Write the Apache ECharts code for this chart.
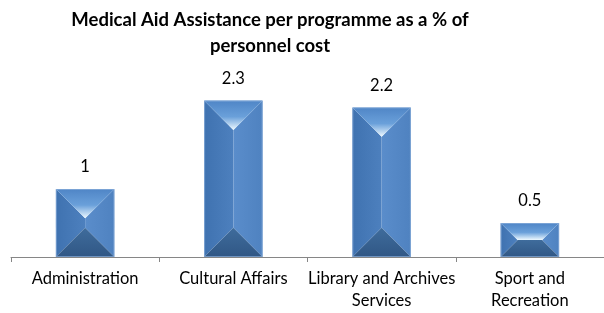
<!DOCTYPE html>
<html><head><meta charset="utf-8">
<script src="https://cdn.jsdelivr.net/npm/echarts@6/dist/echarts.min.js"></script>
<style>html,body{margin:0;padding:0;background:#fff}#c{width:604px;height:313px}</style>
</head><body><div id="c"></div>
<script>
const titleLines = ['Medical Aid Assistance per programme as a % of', 'personnel cost'];
const categories = ['Administration', 'Cultural Affairs', 'Library and Archives\nServices', 'Sport and\nRecreation'];
const values = [1, 2.3, 2.2, 0.5];
const valueLabels = ['1', '2.3', '2.2', '0.5'];

const chart = echarts.init(document.getElementById('c'));
const FONT = 'Lato, "Liberation Sans", sans-serif';

function renderItem(params, api) {
  const cat = api.value(0), v = api.value(1);
  const top = api.coord([cat, v]);
  const base = api.coord([cat, 0]);
  const w = api.size([1, 0])[0] * 0.395;
  const x0 = top[0] - w / 2, x1 = top[0] + w / 2, y0 = top[1], y1 = base[1];
  const h = y1 - y0;
  const d = Math.min(w / 2, h / 2);
  const poly = (pts, fill) => ({ type: 'polygon', shape: { points: pts }, style: { fill: fill, stroke: null } });
  const grad = (stops, x2, y2) => ({ type: 'linear', x: 0, y: 0, x2: x2, y2: y2, colorStops: stops });
  const children = [
    poly([[x0, y0], [x0 + d, y0 + d], [x0 + d, y1 - d], [x0, y1]], grad([{offset: 0, color: '#3f72b0'}, {offset: 1, color: '#4d80be'}], 1, 0)),
    poly([[x1, y0], [x1 - d, y0 + d], [x1 - d, y1 - d], [x1, y1]], grad([{offset: 0, color: '#5a8dcb'}, {offset: 1, color: '#4f82c0'}], 1, 0)),
    poly([[x0 + d, y0 + d], [x1 - d, y0 + d], [x1 - d, y1 - d], [x0 + d, y1 - d]], '#4a7dbb'),
    poly([[x0, y1], [x1, y1], [x1 - d, y1 - d], [x0 + d, y1 - d]], grad([{offset: 0, color: '#3f6c9c'}, {offset: 1, color: '#305785'}], 0, 1)),
    poly([[x0, y0], [x1, y0], [x1 - d, y0 + d], [x0 + d, y0 + d]], grad([{offset: 0, color: '#4f85c6'}, {offset: 0.55, color: '#6aa0da'}, {offset: 1, color: '#eef9ff'}], 0, 1)),
    { type: 'rect', shape: { x: x0 + 0.5, y: y0 + 0.5, width: w - 1, height: h - 1 }, style: { fill: null, stroke: 'rgba(140,175,220,0.7)', lineWidth: 1 } },
    { type: 'text', x: top[0], y: y0 - 22, style: { text: valueLabels[params.dataIndex], fill: '#000', font: '16.5px ' + FONT, textAlign: 'center', textVerticalAlign: 'middle' } }
  ];
  return { type: 'group', children: children };
}

chart.setOption({
  animation: false,
  graphic: [
    { type: 'text', x: 270, y: 20, style: { text: titleLines[0], fill: '#000', font: 'bold 18.5px ' + FONT, textAlign: 'center', textVerticalAlign: 'middle' } },
    { type: 'text', x: 270, y: 46, style: { text: titleLines[1], fill: '#000', font: 'bold 18.5px ' + FONT, textAlign: 'center', textVerticalAlign: 'middle' } }
  ],
  grid: { left: 11, right: -7, top: 53, bottom: 56 },
  xAxis: {
    type: 'category', data: categories, boundaryGap: true,
    axisLine: { lineStyle: { color: '#868686', width: 1 } },
    axisTick: { show: true, length: 5, interval: 0, lineStyle: { color: '#868686' } },
    axisLabel: { interval: 0, color: '#000', fontFamily: FONT, fontSize: 16.5, lineHeight: 22, margin: 11 }
  },
  yAxis: { type: 'value', min: 0, max: 3, show: false, splitLine: { show: false } },
  series: [{
    type: 'custom', renderItem: renderItem,
    data: values.map((v, i) => [i, v]),
    encode: { x: 0, y: 1 }
  }]
});
</script></body></html>
